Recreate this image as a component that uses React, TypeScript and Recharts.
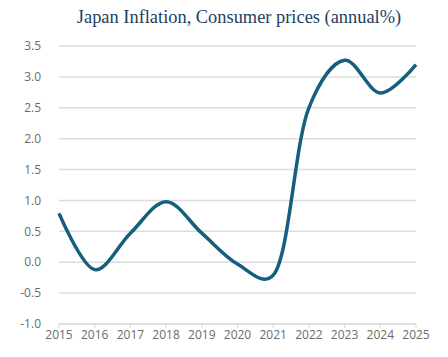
import React from "react";
import { LineChart, Line, XAxis, YAxis, CartesianGrid } from "recharts";

const years = ["2015", "2016", "2017", "2018", "2019", "2020", "2021", "2022", "2023", "2024", "2025"];
const inflation = [0.79, -0.12, 0.47, 0.98, 0.47, -0.03, -0.21, 2.5, 3.27, 2.74, 3.2];
const yTicks = [-1.0, -0.5, 0.0, 0.5, 1.0, 1.5, 2.0, 2.5, 3.0, 3.5];

const data = years.map((y, i) => ({ year: y, value: inflation[i] }));

// Catmull-Rom curve factory (parameterised alpha)
function smoothCurve(context: any) {
  let pts: [number, number][] = [];
  const alpha = 0.3;
  const eps = 1e-12;
  const dist = (a: [number, number], b: [number, number]) => Math.hypot(a[0] - b[0], a[1] - b[1]);
  return {
    areaStart() {},
    areaEnd() {},
    lineStart() {
      pts = [];
    },
    point(x: number, y: number) {
      pts.push([+x, +y]);
    },
    lineEnd() {
      const n = pts.length;
      if (n === 0) return;
      context.moveTo(pts[0][0], pts[0][1]);
      for (let i = 0; i < n - 1; i++) {
        const p1 = pts[i];
        const p2 = pts[i + 1];
        const p0 = i > 0 ? pts[i - 1] : null;
        const p3 = i + 2 < n ? pts[i + 2] : null;
        const l12 = dist(p1, p2);
        const l12a = Math.pow(l12, alpha);
        const l12_2a = Math.pow(l12, 2 * alpha);
        let c1x = p1[0], c1y = p1[1], c2x = p2[0], c2y = p2[1];
        if (p0) {
          const l01 = dist(p0, p1);
          const l01a = Math.pow(l01, alpha);
          const l01_2a = Math.pow(l01, 2 * alpha);
          if (l01a > eps) {
            const a = 2 * l01_2a + 3 * l01a * l12a + l12_2a;
            const nn = 3 * l01a * (l01a + l12a);
            c1x = (p1[0] * a - p0[0] * l12_2a + p2[0] * l01_2a) / nn;
            c1y = (p1[1] * a - p0[1] * l12_2a + p2[1] * l01_2a) / nn;
          }
        }
        if (p3) {
          const l23 = dist(p2, p3);
          const l23a = Math.pow(l23, alpha);
          const l23_2a = Math.pow(l23, 2 * alpha);
          if (l23a > eps) {
            const b = 2 * l23_2a + 3 * l23a * l12a + l12_2a;
            const m = 3 * l23a * (l23a + l12a);
            c2x = (p2[0] * b + p1[0] * l23_2a - p3[0] * l12_2a) / m;
            c2y = (p2[1] * b + p1[1] * l23_2a - p3[1] * l12_2a) / m;
          }
        }
        context.bezierCurveTo(c1x, c1y, c2x, c2y, p2[0], p2[1]);
      }
    },
  };
}

export default function App() {
  return (
    <div style={{ position: "absolute", left: 0, top: 0, width: 448, height: 357, background: "#fff" }}>
      <div
        style={{
          position: "absolute",
          left: 0,
          top: 6,
          width: 478,
          textAlign: "center",
          fontFamily: "'Liberation Serif', serif",
          fontSize: 18.4,
          lineHeight: "22px",
          whiteSpace: "nowrap",
          color: "#1d3f5e",
        }}
      >
        Japan Inflation, Consumer prices (annual%)
      </div>
      <LineChart width={448} height={357} data={data} margin={{ top: 46, right: 32, bottom: 0, left: 0 }}>
        <CartesianGrid vertical={false} stroke="#dcdcdc" strokeWidth={1.5} />
        <XAxis
          dataKey="year"
          interval={0}
          stroke="#d9d9d9"
          tickLine={{ stroke: "#d9d9d9" }}
          tickSize={4}
          tick={{ fill: "#6b6b6b", fontSize: 12, fontFamily: "'Open Sans', sans-serif" }}
          height={33}
        />
        <YAxis
          domain={[-1, 3.5]}
          ticks={yTicks}
          tickFormatter={(v: number) => v.toFixed(1)}
          axisLine={false}
          tickLine={false}
          width={59}
          tickMargin={12}
          tick={{ fill: "#6b6b6b", fontSize: 12, fontFamily: "'Open Sans', sans-serif" }}
        />
        <Line
          type={smoothCurve as any}
          dataKey="value"
          stroke="#165e7f"
          strokeWidth={3.5}
          dot={false}
          isAnimationActive={false}
        />
      </LineChart>
    </div>
  );
}
